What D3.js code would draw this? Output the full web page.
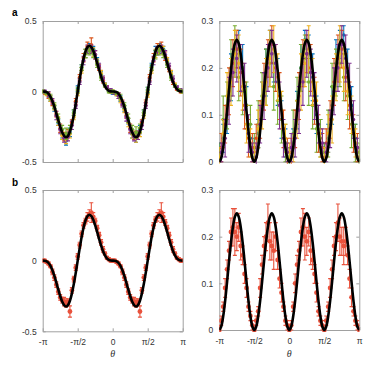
<!DOCTYPE html>
<html>
<head>
<meta charset="utf-8">
<script src="https://cdn.jsdelivr.net/npm/d3@7"></script>
<style>
  body { margin: 0; background: #fff; }
  svg { display: block; }
  .tick text { font-family: "Liberation Sans", Arial, sans-serif; font-size: 8.5px; fill: #333; }
</style>
</head>
<body>
<div class="chart"></div>
<script>

// angles in degrees
var thetaFine = [-180,-175,-170,-165,-160,-155,-150,-145,-140,-135,-130,-125,-120,-115,-110,-105,-100,-95,-90,-85,-80,-75,-70,-65,-60,-55,-50,-45,-40,-35,-30,-25,-20,-15,-10,-5,0,
  5,10,15,20,25,30,35,40,45,50,55,60,65,70,75,80,85,90,95,100,105,110,115,120,125,130,135,140,145,150,155,160,165,170,175,180];
var thetaEven = [-180,-170,-160,-150,-140,-130,-120,-110,-100,-90,-80,-70,-60,-50,-40,-30,-20,-10,0,10,20,30,40,50,60,70,80,90,100,110,120,130,140,150,160,170,180];
var thetaOdd = [-175,-165,-155,-145,-135,-125,-115,-105,-95,-85,-75,-65,-55,-45,-35,-25,-15,-5,5,15,25,35,45,55,65,75,85,95,105,115,125,135,145,155,165,175];

var xTicks = [-180, -90, 0, 90, 180];
var xTickLabels = ["-\u03c0", "-\u03c0/2", "0", "\u03c0/2", "\u03c0"];
var yTicksLeft = [-0.5, 0, 0.5];
var yTickLabelsLeft = ["-0.5", "0", "0.5"];
var yTicksRight = [0, 0.1, 0.2, 0.3];
var yTickLabelsRight = ["0", "0.1", "0.2", "0.3"];

// theory curves
var fitLeft = [0,-0.0007,-0.0052,-0.0167,-0.0376,-0.0684,-0.1083,-0.1546,-0.2034,-0.25,-0.2889,-0.3153,-0.3248,-0.3146,-0.2838,-0.2333,-0.1659,-0.0861,0,0.0861,0.1659,0.2333,0.2838,0.3146,0.3248,0.3153,0.2889,0.25,0.2034,0.1546,0.1083,0.0684,0.0376,0.0167,0.0052,0.0007,0,
  -0.0007,-0.0052,-0.0167,-0.0376,-0.0684,-0.1083,-0.1546,-0.2034,-0.25,-0.2889,-0.3153,-0.3248,-0.3146,-0.2838,-0.2333,-0.1659,-0.0861,0,0.0861,0.1659,0.2333,0.2838,0.3146,0.3248,0.3153,0.2889,0.25,0.2034,0.1546,0.1083,0.0684,0.0376,0.0167,0.0052,0.0007,0];
var fitRightA = [0,0.0079,0.0304,0.065,0.1074,0.1526,0.195,0.2296,0.2521,0.26,0.2521,0.2296,0.195,0.1526,0.1074,0.065,0.0304,0.0079,
  0,0.0079,0.0304,0.065,0.1074,0.1526,0.195,0.2296,0.2521,0.26,0.2521,0.2296,0.195,0.1526,0.1074,0.065,0.0304,0.0079,
  0,0.0079,0.0304,0.065,0.1074,0.1526,0.195,0.2296,0.2521,0.26,0.2521,0.2296,0.195,0.1526,0.1074,0.065,0.0304,0.0079,
  0,0.0079,0.0304,0.065,0.1074,0.1526,0.195,0.2296,0.2521,0.26,0.2521,0.2296,0.195,0.1526,0.1074,0.065,0.0304,0.0079,0];
var fitRightB = [0,0.0076,0.0293,0.0625,0.1033,0.1467,0.1875,0.2208,0.2425,0.25,0.2425,0.2208,0.1875,0.1467,0.1033,0.0625,0.0293,0.0076,
  0,0.0076,0.0293,0.0625,0.1033,0.1467,0.1875,0.2208,0.2425,0.25,0.2425,0.2208,0.1875,0.1467,0.1033,0.0625,0.0293,0.0076,
  0,0.0076,0.0293,0.0625,0.1033,0.1467,0.1875,0.2208,0.2425,0.25,0.2425,0.2208,0.1875,0.1467,0.1033,0.0625,0.0293,0.0076,
  0,0.0076,0.0293,0.0625,0.1033,0.1467,0.1875,0.2208,0.2425,0.25,0.2425,0.2208,0.1875,0.1467,0.1033,0.0625,0.0293,0.0076,0];

// panel a, left : five runs
var aLeftBlue = [0.00,-0.01,-0.05,-0.12,-0.22,-0.30,-0.35,-0.29,-0.15,0.02,0.17,0.27,0.31,0.30,0.22,0.12,0.05,0.01,-0.01,-0.02,-0.05,-0.12,-0.21,-0.30,-0.33,-0.27,-0.15,0.01,0.18,0.29,0.31,0.30,0.21,0.12,0.04,0.01,0.00];
var aLeftBlueErr = [0.01,0.01,0.02,0.02,0.02,0.03,0.03,0.03,0.02,0.02,0.02,0.03,0.03,0.02,0.02,0.02,0.01,0.01,0.01,0.01,0.02,0.02,0.02,0.03,0.03,0.03,0.02,0.02,0.02,0.03,0.03,0.02,0.02,0.02,0.01,0.01,0.01];
var aLeftOrange = [-0.01,-0.03,-0.08,-0.16,-0.26,-0.32,-0.30,-0.22,-0.07,0.10,0.24,0.32,0.33,0.26,0.17,0.08,0.03,0.00,-0.01,-0.03,-0.08,-0.17,-0.26,-0.31,-0.31,-0.22,-0.08,0.10,0.24,0.31,0.32,0.25,0.16,0.07,0.02,0.00];
var aLeftOrangeErr = [0.01,0.02,0.02,0.02,0.03,0.03,0.03,0.02,0.02,0.02,0.03,0.03,0.05,0.03,0.02,0.02,0.01,0.01,0.01,0.02,0.02,0.02,0.03,0.03,0.03,0.02,0.02,0.02,0.03,0.03,0.03,0.03,0.02,0.02,0.01,0.01];
var aLeftYellow = [0.00,-0.02,-0.05,-0.11,-0.21,-0.31,-0.34,-0.30,-0.18,-0.01,0.15,0.27,0.30,0.28,0.21,0.13,0.05,0.01,0.00,-0.02,-0.06,-0.13,-0.22,-0.30,-0.33,-0.29,-0.17,-0.02,0.15,0.27,0.30,0.29,0.22,0.13,0.05,0.01,0.00];
var aLeftYellowErr = [0.01,0.01,0.02,0.02,0.03,0.03,0.03,0.03,0.02,0.02,0.02,0.03,0.03,0.03,0.02,0.02,0.01,0.01,0.01,0.01,0.02,0.02,0.03,0.03,0.03,0.03,0.02,0.02,0.02,0.03,0.03,0.03,0.02,0.02,0.01,0.01,0.01];
var aLeftPurple = [0.00,-0.02,-0.07,-0.17,-0.27,-0.33,-0.32,-0.24,-0.10,0.07,0.22,0.30,0.30,0.26,0.18,0.09,0.03,0.01,-0.01,-0.03,-0.09,-0.18,-0.27,-0.32,-0.31,-0.24,-0.10,0.07,0.22,0.29,0.30,0.26,0.18,0.09,0.03,0.01];
var aLeftPurpleErr = [0.01,0.02,0.02,0.03,0.03,0.03,0.03,0.03,0.02,0.02,0.03,0.03,0.03,0.03,0.02,0.02,0.01,0.01,0.01,0.02,0.02,0.03,0.03,0.03,0.03,0.03,0.02,0.02,0.03,0.03,0.03,0.03,0.02,0.02,0.01,0.01];
var aLeftGreen = [0.00,-0.01,-0.04,-0.10,-0.19,-0.27,-0.30,-0.27,-0.15,0.01,0.17,0.27,0.29,0.27,0.19,0.10,0.04,0.00,0.00,-0.01,-0.04,-0.10,-0.19,-0.27,-0.29,-0.26,-0.15,0.01,0.17,0.26,0.29,0.27,0.19,0.10,0.04,0.01,0.00];
var aLeftGreenErr = [0.01,0.01,0.02,0.02,0.03,0.03,0.04,0.03,0.02,0.02,0.02,0.03,0.03,0.03,0.02,0.02,0.01,0.01,0.01,0.01,0.02,0.02,0.03,0.03,0.04,0.03,0.02,0.02,0.02,0.03,0.03,0.03,0.02,0.02,0.01,0.01,0.01];

// panel a, right : five runs
var aRightBlue = [0.02,0.05,0.10,0.18,0.22,0.24,0.20,0.12,0.05, 0.03,0.06,0.13,0.19,0.25,0.21,0.17,0.09,0.04, 0.01,0.04,0.11,0.20,0.26,0.23,0.18,0.10,0.06, 0.02,0.05,0.12,0.21,0.25,0.27,0.19,0.12,0.05, 0.01];
var aRightBlueErr = [0.02,0.03,0.04,0.05,0.04,0.04,0.05,0.04,0.03, 0.02,0.03,0.04,0.05,0.03,0.04,0.05,0.04,0.03, 0.02,0.03,0.04,0.05,0.02,0.04,0.05,0.04,0.03, 0.02,0.03,0.04,0.05,0.03,0.02,0.05,0.04,0.03, 0.02];
var aRightOrange = [0.03,0.08,0.15,0.21,0.24,0.19,0.12,0.05,0.03, 0.05,0.09,0.16,0.22,0.25,0.20,0.14,0.07,0.02, 0.02,0.07,0.14,0.21,0.23,0.20,0.13,0.06,0.03, 0.04,0.09,0.17,0.22,0.24,0.18,0.12,0.06,0.03];
var aRightOrangeErr = [0.03,0.04,0.05,0.05,0.04,0.05,0.05,0.04,0.03, 0.03,0.04,0.05,0.04,0.04,0.05,0.05,0.04,0.03, 0.03,0.04,0.05,0.05,0.04,0.05,0.05,0.04,0.03, 0.03,0.04,0.05,0.05,0.04,0.05,0.05,0.04,0.03];
var aRightYellow = [0.01,0.06,0.14,0.17,0.23,0.21,0.16,0.08,0.04, 0.02,0.07,0.12,0.17,0.22,0.24,0.18,0.11,0.05, 0.02,0.03,0.09,0.17,0.21,0.24,0.17,0.13,0.04, 0.01,0.06,0.09,0.18,0.23,0.20,0.15,0.10,0.04, 0.01];
var aRightYellowErr = [0.02,0.03,0.05,0.05,0.05,0.06,0.05,0.04,0.03, 0.02,0.04,0.05,0.05,0.06,0.05,0.05,0.04,0.03, 0.02,0.03,0.04,0.06,0.05,0.05,0.05,0.04,0.03, 0.02,0.04,0.05,0.05,0.06,0.05,0.05,0.04,0.03, 0.02];
var aRightPurple = [0.02,0.05,0.13,0.19,0.22,0.20,0.16,0.06,0.02, 0.01,0.08,0.14,0.20,0.23,0.21,0.12,0.05,0.02, 0.03,0.05,0.11,0.17,0.23,0.19,0.14,0.08,0.04, 0.02,0.07,0.15,0.20,0.25,0.22,0.16,0.09,0.03];
var aRightPurpleErr = [0.02,0.04,0.05,0.05,0.05,0.05,0.05,0.04,0.02, 0.03,0.04,0.05,0.05,0.05,0.04,0.05,0.04,0.02, 0.03,0.04,0.05,0.05,0.05,0.05,0.05,0.04,0.03, 0.02,0.04,0.05,0.05,0.04,0.05,0.05,0.04,0.02];
var aRightGreen = [0.02,0.09,0.12,0.20,0.24,0.18,0.15,0.12,0.08, 0.03,0.08,0.14,0.18,0.21,0.16,0.13,0.09,0.04, 0.01,0.06,0.13,0.20,0.22,0.17,0.12,0.07,0.05, 0.02,0.06,0.16,0.19,0.21,0.18,0.14,0.08,0.04, 0.02];
var aRightGreenErr = [0.02,0.05,0.05,0.06,0.05,0.05,0.05,0.05,0.04, 0.03,0.05,0.05,0.06,0.05,0.05,0.05,0.05,0.04, 0.02,0.05,0.05,0.05,0.05,0.05,0.05,0.05,0.04, 0.02,0.05,0.05,0.05,0.05,0.05,0.05,0.05,0.04, 0.02];

// panel b : averaged data
var bLeft = [0.00,0.00,-0.01,-0.02,-0.04,-0.08,-0.12,-0.17,-0.22,-0.26,-0.28,-0.29,-0.30,-0.29,-0.36,-0.21,-0.13,-0.05,0.03,0.11,0.19,0.25,0.28,0.31,0.33,0.34,0.31,0.28,0.23,0.18,0.13,0.08,0.05,0.02,0.01,0.00,0.00,
  0.00,-0.01,-0.02,-0.04,-0.08,-0.12,-0.17,-0.22,-0.26,-0.28,-0.29,-0.30,-0.29,-0.36,-0.21,-0.12,-0.05,0.03,0.11,0.19,0.25,0.29,0.31,0.33,0.34,0.31,0.27,0.23,0.18,0.13,0.08,0.05,0.02,0.01,0.00,0.00];
var bLeftErr = [0.01,0.01,0.01,0.01,0.01,0.02,0.02,0.02,0.02,0.02,0.02,0.03,0.03,0.02,0.04,0.02,0.02,0.02,0.02,0.02,0.02,0.02,0.02,0.03,0.03,0.07,0.03,0.02,0.02,0.02,0.02,0.02,0.01,0.01,0.01,0.01,0.01,
  0.01,0.01,0.01,0.01,0.02,0.02,0.02,0.02,0.02,0.02,0.03,0.03,0.02,0.04,0.02,0.02,0.02,0.02,0.02,0.02,0.02,0.02,0.03,0.03,0.07,0.03,0.02,0.02,0.02,0.02,0.02,0.01,0.01,0.01,0.01,0.01];
var bRight = [0.00,0.02,0.05,0.09,0.13,0.17,0.21,0.22,0.21,0.20,0.22,0.18,0.16,0.12,0.09,0.05,0.03,0.01,
  0.00,0.02,0.04,0.09,0.14,0.18,0.20,0.23,0.19,0.18,0.17,0.20,0.15,0.11,0.08,0.05,0.02,0.01,
  0.00,0.01,0.05,0.10,0.14,0.17,0.21,0.22,0.20,0.19,0.21,0.17,0.15,0.12,0.08,0.04,0.02,0.01,
  0.00,0.02,0.05,0.09,0.13,0.18,0.20,0.23,0.20,0.19,0.18,0.19,0.16,0.11,0.07,0.04,0.02,0.01,0.00];
var bRightErr = [0.01,0.01,0.01,0.02,0.02,0.02,0.03,0.04,0.05,0.03,0.03,0.03,0.02,0.02,0.02,0.01,0.01,0.01,
  0.01,0.01,0.01,0.02,0.02,0.02,0.03,0.04,0.04,0.03,0.04,0.03,0.02,0.02,0.02,0.01,0.01,0.01,
  0.01,0.01,0.01,0.02,0.02,0.02,0.03,0.04,0.05,0.03,0.03,0.03,0.02,0.02,0.02,0.01,0.01,0.01,
  0.01,0.01,0.01,0.02,0.02,0.02,0.03,0.04,0.04,0.03,0.04,0.03,0.02,0.02,0.02,0.01,0.01,0.01,0.01];

var colors = { blue: "#0072bd", orange: "#d95319", yellow: "#edb120", purple: "#7e2f8e", green: "#77ac30", red: "#e8523c" };

var width = 374, height = 367;

var svg = d3.select(".chart").append("svg")
    .attr("width", width)
    .attr("height", height);

function panel(id, box, yDomain, yTicks, yLabels, showX) {
    var x = d3.scaleLinear().domain([-180, 180]).range([box.left, box.right]);
    var y = d3.scaleLinear().domain(yDomain).range([box.bottom, box.top]);

    svg.append("clipPath").attr("id", id)
      .append("rect")
        .attr("x", box.left).attr("y", box.top - 2)
        .attr("width", box.right - box.left).attr("height", box.bottom - box.top + 4);

    var g = svg.append("g");

    function styleAxis(sel) {
        sel.select(".domain").attr("stroke", "#a0a0a0");
        sel.selectAll(".tick line").attr("stroke", "#a0a0a0");
    }

    g.append("g")
        .attr("transform", "translate(0," + box.bottom + ")")
        .call(d3.axisBottom(x).tickValues(xTicks).tickSizeInner(-3).tickSizeOuter(0).tickPadding(8)
            .tickFormat(function(d, i) { return showX ? xTickLabels[i] : ""; }))
        .call(styleAxis);
    g.append("g")
        .attr("transform", "translate(0," + box.top + ")")
        .call(d3.axisTop(x).tickValues(xTicks).tickSizeInner(-3).tickSizeOuter(0).tickFormat(""))
        .call(styleAxis);
    g.append("g")
        .attr("transform", "translate(" + box.left + ",0)")
        .call(d3.axisLeft(y).tickValues(yTicks).tickSizeInner(-3).tickSizeOuter(0).tickPadding(6)
            .tickFormat(function(d, i) { return yLabels[i]; }))
        .call(styleAxis);
    g.append("g")
        .attr("transform", "translate(" + box.right + ",0)")
        .call(d3.axisRight(y).tickValues(yTicks).tickSizeInner(-3).tickSizeOuter(0).tickFormat(""))
        .call(styleAxis);

    var plot = svg.append("g").attr("clip-path", "url(#" + id + ")");
    return { x: x, y: y, plot: plot };
}

function errorSeries(p, theta, vals, errs, color, r) {
    var pts = theta.map(function(t, i) { return { t: t, v: vals[i], e: errs[i] }; })
        .filter(function(d) { return d.v !== undefined; });
    var grp = p.plot.append("g");
    var cap = 2;
    pts.forEach(function(d) {
        var cx = p.x(d.t), y0 = p.y(d.v - d.e), y1 = p.y(d.v + d.e);
        grp.append("line").attr("x1", cx).attr("x2", cx).attr("y1", y0).attr("y2", y1)
            .attr("stroke", color).attr("stroke-width", 1.1);
        grp.append("line").attr("x1", cx - cap).attr("x2", cx + cap).attr("y1", y0).attr("y2", y0)
            .attr("stroke", color).attr("stroke-width", 1.1);
        grp.append("line").attr("x1", cx - cap).attr("x2", cx + cap).attr("y1", y1).attr("y2", y1)
            .attr("stroke", color).attr("stroke-width", 1.1);
    });
    grp.selectAll("circle").data(pts).enter().append("circle")
        .attr("cx", function(d) { return p.x(d.t); })
        .attr("cy", function(d) { return p.y(d.v); })
        .attr("r", r)
        .attr("fill", color);
}

function fitCurve(p, vals) {
    var line = d3.line()
        .x(function(d, i) { return p.x(thetaFine[i]); })
        .y(function(d) { return p.y(d); })
        .curve(d3.curveCatmullRom.alpha(0.5));
    p.plot.append("path")
        .datum(vals)
        .attr("d", line)
        .attr("fill", "none")
        .attr("stroke", "#000")
        .attr("stroke-width", 2.6)
        .attr("stroke-linejoin", "round");
}

var boxAL = { left: 42.7, right: 182.7, top: 21, bottom: 162 };
var boxAR = { left: 219.3, right: 359.3, top: 21, bottom: 161.7 };
var boxBL = { left: 42.7, right: 182.7, top: 190, bottom: 331.3 };
var boxBR = { left: 219.3, right: 359.3, top: 190, bottom: 330 };

var pAL = panel("clipAL", boxAL, [-0.5, 0.5], yTicksLeft, yTickLabelsLeft, false);
errorSeries(pAL, thetaEven, aLeftBlue, aLeftBlueErr, colors.blue, 2);
errorSeries(pAL, thetaOdd, aLeftOrange, aLeftOrangeErr, colors.orange, 2);
errorSeries(pAL, thetaEven, aLeftYellow, aLeftYellowErr, colors.yellow, 2);
errorSeries(pAL, thetaOdd, aLeftPurple, aLeftPurpleErr, colors.purple, 2);
errorSeries(pAL, thetaEven, aLeftGreen, aLeftGreenErr, colors.green, 2);
fitCurve(pAL, fitLeft);

var pAR = panel("clipAR", boxAR, [0, 0.3], yTicksRight, yTickLabelsRight, false);
errorSeries(pAR, thetaEven, aRightBlue, aRightBlueErr, colors.blue, 1.8);
errorSeries(pAR, thetaEven, aRightGreen, aRightGreenErr, colors.green, 1.8);
errorSeries(pAR, thetaOdd, aRightOrange, aRightOrangeErr, colors.orange, 1.8);
errorSeries(pAR, thetaEven, aRightYellow, aRightYellowErr, colors.yellow, 1.8);
errorSeries(pAR, thetaOdd, aRightPurple, aRightPurpleErr, colors.purple, 1.8);
fitCurve(pAR, fitRightA);

var pBL = panel("clipBL", boxBL, [-0.5, 0.5], yTicksLeft, yTickLabelsLeft, true);
errorSeries(pBL, thetaFine, bLeft, bLeftErr, colors.red, 2.4);
fitCurve(pBL, fitLeft);

var pBR = panel("clipBR", boxBR, [0, 0.3], yTicksRight, yTickLabelsRight, true);
errorSeries(pBR, thetaFine, bRight, bRightErr, colors.red, 2.4);
fitCurve(pBR, fitRightB);

// panel letters
svg.append("text").attr("x", 12).attr("y", 16).text("a")
    .style("font-family", "Liberation Sans, Arial, sans-serif").style("font-weight", "bold").style("font-size", "10px");
svg.append("text").attr("x", 12).attr("y", 186).text("b")
    .style("font-family", "Liberation Sans, Arial, sans-serif").style("font-weight", "bold").style("font-size", "10px");

// x titles
[boxBL, boxBR].forEach(function(b) {
    svg.append("text")
        .attr("x", (b.left + b.right) / 2)
        .attr("y", 357)
        .attr("text-anchor", "middle")
        .style("font-family", "Liberation Serif, DejaVu Serif, serif")
        .style("font-style", "italic")
        .style("font-size", "10px")
        .style("fill", "#333")
        .text("\u03b8");
});

</script>
</body>
</html>
